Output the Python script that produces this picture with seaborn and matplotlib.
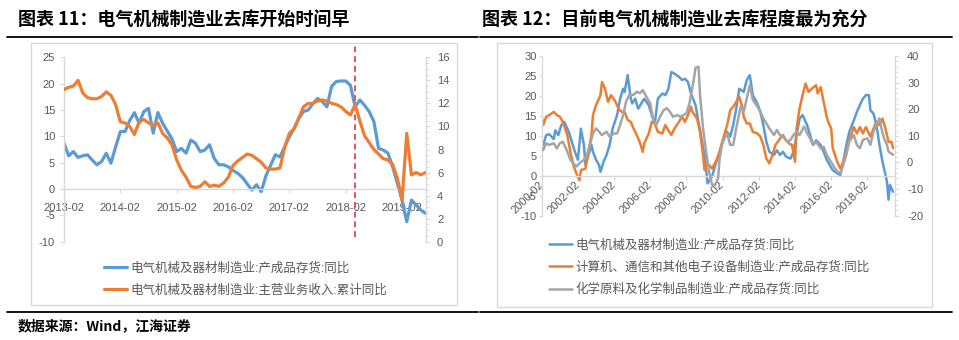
import numpy as np
import pandas as pd
import matplotlib
matplotlib.use("Agg")
import matplotlib.pyplot as plt
import seaborn as sns
from matplotlib.lines import Line2D
from matplotlib.patches import Rectangle
from matplotlib.ticker import MultipleLocator

# ---------------- data: chart 11 (monthly from 2013-02) ----------------
c11_start = "2013-02"
c11_inventory = [8.7, 6.3, 7.1, 6.0, 6.3, 6.5, 5.5, 4.6, 5.2, 6.8,
                 4.9, 8.0, 10.9, 10.9, 13.0, 14.5, 12.5, 14.7, 15.3, 10.6,
                 14.5, 12.5, 11.0, 9.5, 7.1, 7.7, 6.8, 9.3, 8.7, 7.1,
                 7.4, 8.4, 5.8, 4.6, 4.6, 4.2, 3.5, 3.0, 2.2, 1.0,
                 -0.2, 0.8, -0.5, 2.5, 4.5, 6.5, 6.1, 8.0, 9.9, 11.5,
                 13.4, 14.7, 15.0, 16.2, 17.2, 16.6, 15.6, 19.5, 20.4, 20.5,
                 20.5, 19.7, 15.6, 16.9, 15.9, 14.7, 12.8, 7.7, 7.4, 6.8,
                 4.2, 1.1, -2.1, -6.2, -2.1, -3.0, -4.0, -4.6]
c11_revenue = [13.2, 13.4, 13.5, 14.0, 12.9, 12.5, 12.4, 12.4, 12.6, 13.0,
               12.7, 11.9, 10.4, 10.3, 10.0, 9.3, 10.4, 10.6, 10.3, 10.1,
               10.3, 9.4, 9.0, 8.4, 7.1, 6.2, 5.6, 4.8, 4.7, 4.8,
               5.2, 4.8, 4.9, 4.8, 5.1, 5.6, 6.6, 7.0, 7.3, 7.6,
               7.5, 7.2, 6.9, 6.4, 6.3, 6.3, 6.4, 8.2, 9.4, 9.8,
               10.7, 11.7, 12.0, 12.0, 12.2, 12.3, 12.2, 12.0, 11.9, 11.7,
               11.3, 11.0, 11.9, 10.5, 9.2, 8.6, 8.0, 7.6, 7.2, 7.1,
               6.7, 5.5, 3.6, 9.4, 5.8, 6.0, 5.8, 6.0]
c11_marker = "2018-04"
c11_labels = ["电气机械及器材制造业:产成品存货:同比",
              "电气机械及器材制造业:主营业务收入:累计同比"]
c11_title = "图表 11：电气机械制造业去库开始时间早"

# ---------------- data: chart 12 (x = months since 2000-02) ----------------
c12_start = "2000-02"
c12_elec_m = [0, 1, 3, 5, 8, 9, 11, 13, 15, 18, 20, 22, 24, 26, 28, 29, 31, 33, 34, 36,
              38, 39, 41, 43, 45, 47, 50, 52, 54, 55, 57, 59, 60, 62, 64, 66, 68, 71, 73, 75,
              77, 80, 82, 84, 86, 88, 91, 93, 95, 97, 99, 102, 104, 106, 108, 110, 113, 115, 118, 120,
              123, 125, 127, 129, 131, 134, 136, 138, 140, 143, 145, 147, 149, 151, 154, 156, 158, 160, 162, 165,
              167, 169, 171, 173, 176, 178, 180, 182, 185, 187, 189, 191, 193, 196, 198, 200, 202, 204, 207, 209,
              211, 213, 215, 217, 218, 220, 222, 224, 226, 229, 230, 231, 233]
c12_elec = [8.9, 7.7, 10.2, 10.4, 9.2, 11.4, 10.2, 12.7, 13.5, 11.0, 8.5, 6.0, 4.0, 11.8, 7.7, 2.7, 5.2, 7.7, 6.0, 4.0,
            2.7, 1.0, 3.5, 5.2, 7.7, 11.8, 15.2, 19.3, 21.8, 21.0, 25.2, 19.5, 18.1, 19.3, 16.8, 18.1, 19.3, 17.7, 15.2, 13.1,
            19.3, 20.6, 20.2, 21.8, 26.0, 25.6, 24.8, 24.0, 24.3, 23.5, 20.6, 17.7, 13.5, 9.3, 5.2, -1.9, -0.2, 2.5, 6.0, 8.5,
            11.0, 9.8, 12.7, 16.8, 21.8, 21.0, 24.0, 25.2, 20.2, 18.1, 16.0, 12.7, 8.5, 6.0, 5.2, 6.4, 5.2, 6.0, 4.8, 4.3,
            6.0, 10.2, 14.3, 15.2, 12.7, 10.2, 7.7, 8.9, 7.7, 6.0, 4.0, 2.7, 1.4, 0.6, 0.2, 3.5, 7.7, 11.0, 13.9, 16.0,
            17.7, 19.3, 20.2, 20.2, 16.4, 15.6, 12.7, 7.7, 3.5, -1.5, -6.0, -2.3, -4.0]
c12_comp_m = [0, 1, 3, 5, 8, 10, 12, 14, 17, 19, 21, 23, 25, 26, 29, 31, 33, 34, 36, 39,
              40, 42, 44, 46, 49, 51, 53, 55, 57, 59, 61, 63, 65, 67, 68, 71, 73, 75, 77, 80,
              82, 84, 86, 88, 91, 93, 95, 97, 99, 100, 103, 105, 107, 108, 110, 113, 116, 118, 120, 123,
              125, 127, 129, 131, 133, 134, 136, 138, 140, 143, 145, 147, 149, 151, 153, 155, 158, 160, 162, 164,
              166, 168, 169, 171, 173, 175, 177, 179, 182, 183, 185, 187, 189, 190, 192, 193, 196, 198, 200, 202,
              204, 207, 209, 211, 213, 215, 218, 220, 222, 224, 226, 228, 230, 232, 233]
c12_comp = [15.0, 12.7, 14.8, 15.2, 16.0, 15.2, 14.8, 13.5, 10.2, 6.0, 2.7, 0.6, -1.1, 1.4, 1.8, 6.0, 10.2, 15.2, 17.7, 20.2,
            23.5, 21.8, 18.5, 20.2, 18.5, 16.8, 16.0, 16.0, 14.0, 13.5, 11.8, 10.2, 8.5, 6.0, 8.1, 10.6, 13.5, 13.1, 11.0, 10.6,
            12.7, 11.4, 10.2, 11.8, 13.5, 14.8, 13.5, 15.2, 17.3, 16.0, 14.3, 11.0, 5.2, 1.4, 3.1, 1.8, 4.0, 6.0, 8.9, 12.7,
            16.4, 17.3, 18.5, 19.8, 17.3, 14.8, 13.1, 13.1, 11.0, 10.6, 9.8, 7.7, 4.3, 3.1, 5.2, 7.7, 9.3, 10.2, 8.9, 8.1,
            7.7, 3.5, 11.8, 16.8, 20.2, 23.1, 21.0, 21.8, 22.7, 20.6, 22.2, 18.5, 14.8, 13.5, 11.8, 6.9, 3.5, 1.8, 3.5, 6.0,
            8.9, 12.2, 10.6, 12.2, 10.6, 12.2, 9.8, 11.8, 13.5, 12.7, 14.3, 11.8, 8.5, 8.5, 6.9]
c12_chem_m = [0, 1, 3, 5, 8, 10, 12, 14, 17, 19, 21, 23, 25, 28, 30, 32, 34, 36, 38, 40,
              43, 45, 48, 50, 52, 54, 56, 58, 61, 63, 65, 67, 70, 72, 74, 76, 79, 81, 83, 85,
              87, 90, 92, 94, 96, 98, 101, 102, 104, 105, 107, 109, 111, 113, 115, 117, 118, 120, 123, 125,
              127, 129, 132, 134, 136, 138, 140, 143, 145, 147, 149, 151, 154, 156, 158, 160, 163, 165, 167, 169,
              171, 174, 176, 178, 180, 182, 185, 187, 189, 191, 193, 196, 198, 200, 202, 204, 207, 209, 211, 213,
              216, 218, 220, 222, 224, 225, 227, 229, 230, 233]
c12_chem = [5.3, 4.7, 7.2, 6.6, 7.2, 5.3, 7.2, 7.8, 4.1, 1.0, -0.3, -1.5, -0.3, 1.0, 2.9, 6.6, 10.9, 12.8, 11.6, 10.3,
            11.6, 9.7, 10.9, 10.9, 14.1, 17.8, 22.9, 25.3, 25.4, 26.6, 26.0, 27.2, 24.1, 22.2, 16.0, 14.1, 17.8, 19.7, 20.4, 19.1,
            17.2, 17.8, 17.2, 17.8, 18.5, 22.2, 31.6, 35.6, 36.0, 25.4, 12.8, 4.1, -3.4, -8.4, -8.4, -6.0, 1.6, 7.8, 10.9, 6.6,
            6.6, 12.8, 21.0, 19.1, 24.1, 29.1, 23.5, 21.0, 19.1, 16.6, 14.7, 12.8, 10.3, 12.2, 10.3, 9.7, 7.8, 8.5, 10.3, 11.6,
            10.3, 13.5, 11.0, 9.0, 6.6, 7.8, 5.3, 5.9, 2.9, 1.0, -0.9, -3.4, -4.0, -0.9, 2.9, 7.8, 10.3, 6.6, 5.3, 8.5,
            9.1, 6.6, 11.6, 14.1, 16.6, 13.5, 9.1, 6.6, 4.1, 2.9]
c12_labels = ["电气机械及器材制造业:产成品存货:同比",
              "计算机、通信和其他电子设备制造业:产成品存货:同比",
              "化学原料及化学制品制造业:产成品存货:同比"]
c12_title = "图表 12：目前电气机械制造业去库程度最为充分"
source_text = "数据来源：Wind，江海证券"

# ---------------- style ----------------
sns.set_theme(style="white")
plt.rcParams["font.family"] = ["Liberation Sans", "Noto Sans CJK SC", "DejaVu Sans"]
plt.rcParams["axes.unicode_minus"] = False

BLUE, ORANGE, GRAY = "#5B9BD5", "#ED7D31", "#A5A5A5"
AXC, TXT = "#D9D9D9", "#595959"
W, H = 959, 340
fig = plt.figure(figsize=(W / 100, H / 100), dpi=100)


def fx(px):
    return px / W


def fy(py):
    return 1 - py / H


def style_pair(ax, axb):
    for a in (ax, axb):
        for s in a.spines.values():
            s.set_color(AXC)
            s.set_linewidth(1)
        a.set_xlabel("")
        a.set_ylabel("")
        a.grid(False)
    ax.spines["top"].set_visible(False)
    ax.spines["right"].set_visible(False)
    ax.spines["bottom"].set_position(("data", 0))
    axb.spines["top"].set_visible(False)
    axb.spines["left"].set_visible(False)
    axb.spines["bottom"].set_visible(False)
    axb.patch.set_visible(False)


# ---------------- chart 11 ----------------
p11 = pd.period_range(c11_start, periods=len(c11_inventory), freq="M")
df11 = pd.DataFrame({"m": np.arange(len(p11)), "inv": c11_inventory, "rev": c11_revenue})

ax1 = fig.add_axes([fx(64), fy(241.7), fx(426) - fx(64), (241.7 - 57.3) / H])
ax1b = ax1.twinx()
sns.lineplot(data=df11, x="m", y="inv", ax=ax1, color=BLUE, lw=2.3, legend=False)
sns.lineplot(data=df11, x="m", y="rev", ax=ax1b, color=ORANGE, lw=2.3, legend=False)
ax1.set_ylim(-10, 25)
ax1b.set_ylim(0, 16)
ax1.set_xlim(0, 77.1)
ax1.set_yticks(np.arange(-10, 26, 5))
ax1b.set_yticks(np.arange(0, 17, 2))
ax1b.yaxis.set_minor_locator(MultipleLocator(0.5))
xt = [i for i, p in enumerate(p11) if p.month == 2]
ax1.set_xticks(xt)
ax1.set_xticklabels([p11[i].strftime("%Y-%m") for i in xt])
style_pair(ax1, ax1b)
ax1.tick_params(axis="y", left=True, length=3, width=0.8, color=AXC, labelcolor=TXT, labelsize=8, pad=3.5)
ax1.tick_params(axis="x", bottom=True, length=3, width=0.8, color=AXC, labelcolor=TXT, labelsize=8, pad=7)
ax1b.tick_params(axis="y", which="major", right=True, length=3, width=0.8, color=AXC, labelcolor=TXT, labelsize=8, pad=5)
ax1b.tick_params(axis="y", which="minor", right=True, length=2, width=0.6, color=AXC)

mk = (pd.Period(c11_marker, "M") - pd.Period(c11_start, "M")).n
ax1.axvline(mk, ymin=0.025, ymax=1.078, color="#E8505B", lw=1.4, ls=(0, (3, 2)), clip_on=False, zorder=5)

fig.legend([ax1.get_lines()[0], ax1b.get_lines()[0]], c11_labels, loc="upper left",
           bbox_to_anchor=(fx(104), fy(262)), frameon=False, fontsize=9, handlelength=1.85,
           handletextpad=0.25, labelspacing=0.8, borderpad=0, borderaxespad=0, labelcolor=TXT)

# ---------------- chart 12 ----------------
p12 = pd.period_range(c12_start, periods=236, freq="M")
ax2 = fig.add_axes([fx(541.7), fy(215.7), fx(895.3) - fx(541.7), (215.7 - 56) / H])
ax2b = ax2.twinx()
sns.lineplot(x=c12_elec_m, y=c12_elec, ax=ax2, color=BLUE, lw=1.8, legend=False)
sns.lineplot(x=c12_comp_m, y=c12_comp, ax=ax2, color=ORANGE, lw=1.8, legend=False)
sns.lineplot(x=c12_chem_m, y=c12_chem, ax=ax2b, color=GRAY, lw=1.8, legend=False)
ax2.set_ylim(-10, 30)
ax2b.set_ylim(-20, 40)
ax2.set_xlim(0, 234.5)
ax2.set_yticks(np.arange(-10, 31, 5))
ax2b.set_yticks(np.arange(-20, 41, 10))
ax2b.yaxis.set_minor_locator(MultipleLocator(2))
xt2 = [i for i, p in enumerate(p12) if p.month == 2 and p.year % 2 == 0 and p.year <= 2018]
ax2.set_xticks(xt2)
ax2.set_xticklabels([p12[i].strftime("%Y-%m") for i in xt2])
style_pair(ax2, ax2b)
ax2.tick_params(axis="y", left=True, length=2, width=0.8, color=AXC, labelcolor=TXT, labelsize=8, pad=1.5)
ax2.tick_params(axis="x", bottom=True, length=3, width=0.8, color=AXC, labelcolor=TXT, labelsize=8, pad=2,
                labelrotation=45)
for lab in ax2.get_xticklabels():
    lab.set_rotation(45)
    lab.set_horizontalalignment("right")
    lab.set_verticalalignment("center")
    lab.set_rotation_mode("anchor")
ax2b.tick_params(axis="y", which="major", right=True, length=3, width=0.8, color=AXC, labelcolor=TXT, labelsize=8, pad=5.5)
ax2b.tick_params(axis="y", which="minor", right=True, length=2, width=0.6, color=AXC)

fig.legend([ax2.get_lines()[0], ax2.get_lines()[1], ax2b.get_lines()[0]], c12_labels, loc="upper left",
           bbox_to_anchor=(fx(549), fy(239)), frameon=False, fontsize=9, handlelength=1.85,
           handletextpad=0.25, labelspacing=0.8, borderpad=0, borderaxespad=0, labelcolor=TXT)

# ---------------- frames, titles, rules ----------------
fig.add_artist(Rectangle((fx(31), fy(305)), fx(457) - fx(31), (305 - 43) / H, transform=fig.transFigure,
                         fill=False, ec=AXC, lw=1))
fig.add_artist(Rectangle((fx(497), fy(307)), fx(932) - fx(497), (307 - 43) / H, transform=fig.transFigure,
                         fill=False, ec=AXC, lw=1))
for x0, x1 in [(7, 478), (480, 952)]:
    fig.add_artist(Line2D([fx(x0), fx(x1)], [fy(37), fy(37)], color="black", lw=1.3, transform=fig.transFigure))
    fig.add_artist(Line2D([fx(x0), fx(x1)], [fy(312), fy(312)], color="black", lw=1.3, transform=fig.transFigure))

fig.text(fx(18), fy(20), c11_title, fontsize=13, fontweight="bold", color="black", va="center", ha="left",
         family=["Noto Sans CJK SC", "DejaVu Sans"])
fig.text(fx(482), fy(20), c12_title, fontsize=13, fontweight="bold", color="black", va="center", ha="left",
         family=["Noto Sans CJK SC", "DejaVu Sans"])
fig.text(fx(18), fy(326), source_text, fontsize=10, fontweight="bold", color="black", va="center", ha="left",
         family=["Noto Sans CJK SC", "DejaVu Sans"])

fig.savefig("out.png", dpi=100)
